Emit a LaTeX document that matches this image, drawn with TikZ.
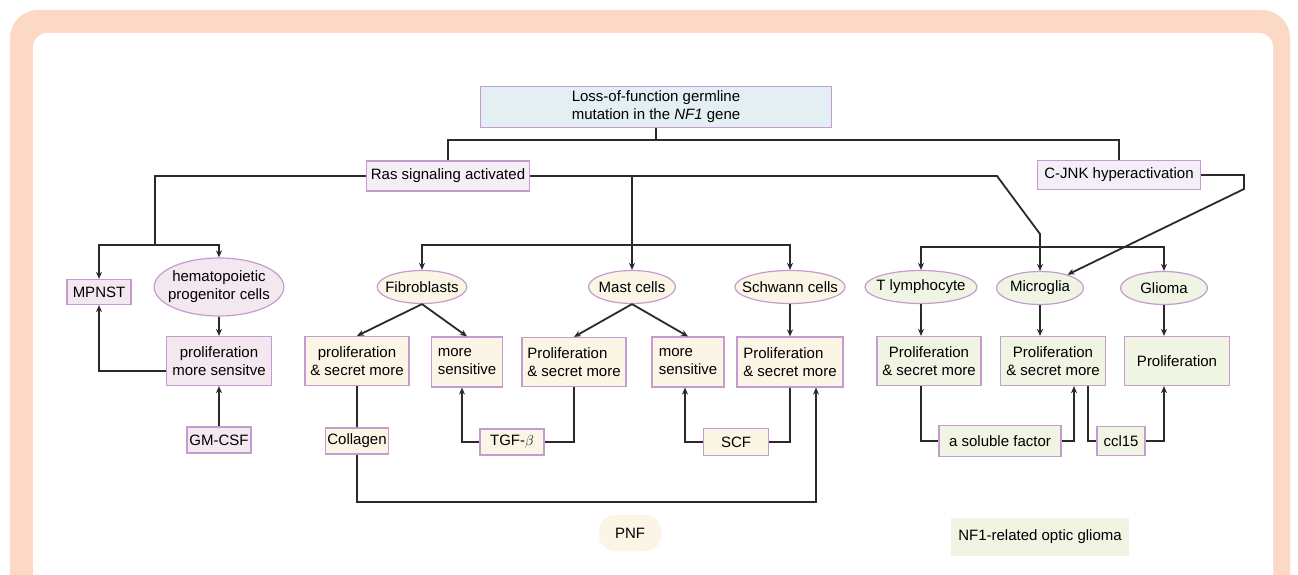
\documentclass[tikz,border=0pt]{standalone}
\usepackage{fontspec}
\setmainfont{Liberation Sans}
\usetikzlibrary{shapes.geometric,arrows.meta}
\definecolor{peach}{HTML}{FCD9C5}
\definecolor{lilac}{HTML}{C59CD0}
\definecolor{skyfill}{HTML}{E4EFF4}
\definecolor{pinkfill}{HTML}{F3E7F0}
\definecolor{creamfill}{HTML}{FAF5E5}
\definecolor{greenfill}{HTML}{EFF4E3}
\definecolor{rasfill}{HTML}{F4EEF6}
\definecolor{ink}{HTML}{2A2A2A}

\begin{document}
\begin{tikzpicture}[x=1pt, y=-1pt,
  font=\fontsize{15}{18}\selectfont,
  >={Stealth[length=7pt,width=6pt]},
  box/.style={draw=lilac, line width=1.2pt, rectangle, inner sep=2pt, align=center},
  cell/.style={draw=lilac, line width=1.2pt, ellipse, inner xsep=-5pt, inner ysep=0pt, minimum width=87pt, minimum height=33pt},
  link/.style={draw=ink, line width=1.8pt}]
            \useasboundingbox (0,0) rectangle (1298,575);
            \fill[peach, rounded corners=28pt] (10,10) rectangle (1290,660);
            \fill[white, rounded corners=14pt] (33,33) rectangle (1273,660);

            \node[box, fill=skyfill, minimum width=351pt, minimum height=41pt] (NF) at (656,107) {Loss-of-function germline\\mutation in the \textit{NF1} gene};
            \node[box, fill=rasfill, minimum width=163pt, minimum height=30pt] (Ras) at (448,176) {Ras signaling activated};
            \node[box, fill=rasfill, minimum width=163pt, minimum height=29pt] (JNK) at (1119,175) {C-JNK hyperactivation};

            % left branch
            \node[box, fill=pinkfill, minimum width=64pt, minimum height=25pt] (MP) at (99,292) {MPNST};
            \node[cell, fill=pinkfill, align=center, minimum height=58pt] (HP) at (219,287) {hematopoietic\\progenitor cells};
            \node[box, fill=pinkfill, minimum width=105pt, minimum height=49pt] (HPp) at (219,361) {proliferation\\more sensitve};
            \node[box, fill=pinkfill, minimum width=64pt, minimum height=26pt] (GM) at (219,440) {GM-CSF};

            % PNF branch
            \node[cell, fill=creamfill] (FB) at (422,287) {Fibroblasts};
            \node[cell, fill=creamfill] (MC) at (632,287) {Mast cells};
            \node[cell, fill=creamfill, inner xsep=-9pt] (SC) at (790,287) {Schwann cells};
            \node[box, fill=creamfill, minimum width=104pt, minimum height=49pt] (FBp) at (357,361) {proliferation\\\& secret more};
            \node[box, fill=creamfill, align=left, minimum width=71pt, minimum height=50pt] (FBs) at (467,362) {more\\sensitive};
            \node[box, fill=creamfill, align=left, minimum width=104pt, minimum height=49pt] (MCp) at (574,362) {Proliferation\\\& secret more};
            \node[box, fill=creamfill, align=left, minimum width=72pt, minimum height=50pt] (MCs) at (688,362) {more\\sensitive};
            \node[box, fill=creamfill, align=left, minimum width=106pt, minimum height=50pt] (SCp) at (790,362) {Proliferation\\\& secret more};
            \node[box, fill=creamfill, minimum width=63pt, minimum height=26pt] (CO) at (357,441) {Collagen};
            \node[box, fill=creamfill, minimum width=64pt, minimum height=26pt] (TG) at (512,442) {TGF-$\beta$};
            \node[box, fill=creamfill, minimum width=65pt, minimum height=27pt] (SCF) at (736,442) {SCF};

            % glioma branch
            \node[cell, fill=greenfill] (TL) at (921,287) {T lymphocyte};
            \node[cell, fill=greenfill] (MG) at (1040,288) {Microglia};
            \node[cell, fill=greenfill] (GL) at (1164,288) {Glioma};
            \node[box, fill=greenfill, minimum width=104pt, minimum height=49pt] (TLp) at (929,361) {Proliferation\\\& secret more};
            \node[box, fill=greenfill, minimum width=105pt, minimum height=49pt] (MGp) at (1053,361) {Proliferation\\\& secret more};
            \node[box, fill=greenfill, minimum width=105pt, minimum height=49pt] (GLp) at (1177,361) {Proliferation};
            \node[box, fill=greenfill, minimum width=122pt, minimum height=31pt] (SF) at (1000,441) {a soluble factor};
            \node[box, fill=greenfill, minimum width=48pt, minimum height=29pt] (CC) at (1121,441) {ccl15};

            \node[fill=creamfill, rounded corners=16pt, minimum width=62pt, minimum height=36pt] (PNF) at (630,533) {PNF};
            \node[fill=greenfill, minimum width=178pt, minimum height=38pt] (OG) at (1040,537) {NF1-related optic glioma};

            \coordinate (t1) at (656,140);
            \coordinate (L2) at (155,245);
            \coordinate (M1) at (632,245);
            \coordinate (R1) at (997,176);
            \coordinate (R2) at (1040,234);
            \coordinate (G1) at (1040,247);
            \coordinate (J1) at (1244,175);
            \coordinate (J2) at (1244,189);
            \coordinate (P1) at (816,502);

            \draw[link] (NF) -- (t1);
            \draw[link] (t1) -| (Ras);
            \draw[link] (t1) -| (JNK);

            \draw[link] (Ras) -| (L2);
            \draw[link, ->] (L2) -| (MP);
            \draw[link, ->] (L2) -| (HP);
            \draw[link, ->] (HP) -- (HPp);
            \draw[link, ->] (GM) -- (HPp);
            \draw[link, ->] ([yshift=-10pt]HPp.west) -| (MP);

            \draw[link] (Ras) -| (M1);
            \draw[link, ->] (M1) -| (FB);
            \draw[link, ->] (M1) -- (MC);
            \draw[link, ->] (M1) -| (SC);
            \draw[link, ->] (FB.south) -- (FBp.north);
            \draw[link, ->] (FB.south) -- (FBs.north);
            \draw[link, ->] (MC.south) -- (MCp.north);
            \draw[link, ->] (MC.south) -- (MCs.north);
            \draw[link, ->] (SC) -- (SCp);
            \draw[link] (FBp) -- (CO);
            \draw[link, ->] (CO) |- (P1) -- (P1 |- SCp.south);
            \draw[link] (MCp) |- (TG);
            \draw[link, ->] (TG) -| ([xshift=-5pt]FBs.south);
            \draw[link] (SCp) |- (SCF);
            \draw[link, ->] (SCF) -| ([xshift=-3pt]MCs.south);

            \draw[link, ->] (Ras) -- (R1) -- (R2) -- (MG);
            \draw[link, ->] (G1) -| (TL);
            \draw[link, ->] (G1) -| (GL);
            \draw[link, ->] (JNK) -- (J1) -- (J2) -- (MG);
            \draw[link, ->] (TL) -- (TL |- TLp.north);
            \draw[link, ->] (MG) -- (MG |- MGp.north);
            \draw[link, ->] (GL) -- (GL |- GLp.north);
            \draw[link] ([xshift=-8pt]TLp.south) |- (SF);
            \draw[link, ->] (SF) -| ([xshift=21pt]MGp.south);
            \draw[link] ([xshift=35pt]MGp.south) |- (CC);
            \draw[link, ->] (CC) -| ([xshift=-13pt]GLp.south);
        \end{tikzpicture}
\end{document}
